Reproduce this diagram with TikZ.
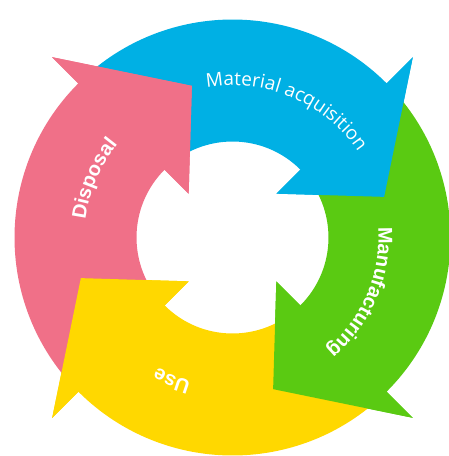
\documentclass[tikz,border=0pt]{standalone}
\usepackage{fontspec}
\usepackage{tikz}
\usetikzlibrary{decorations.text}
\newfontfamily\stagefont{Liberation Sans}
\newfontfamily\matfont{Open Sans}
\definecolor{acqblue}{RGB}{0,176,228}
\definecolor{manugreen}{RGB}{90,202,18}
\definecolor{useyellow}{RGB}{255,216,0}
\definecolor{disppink}{RGB}{240,112,136}
\tikzset{
  stagelabel/.style={decorate, decoration={text along path, text align=center, text color=white, text={#1}}}
}

\begin{document}
\begin{tikzpicture}[x=1pt,y=1pt]
\useasboundingbox[fill=white] (-232.5,-218.5) rectangle (216.5,237.5);
\foreach \col/\b in {acqblue/45, manugreen/-45, useyellow/-135, disppink/135}{
  \fill[\col] (\b+89:218) arc[start angle=\b+89, end angle=\b, radius=218]
    -- (\b:255) -- (\b-30:157) -- (\b:62) -- (\b:96)
    arc[start angle=\b, end angle=\b+89, radius=96] -- cycle;
}
\foreach \col/\b in {acqblue/45, manugreen/-45, useyellow/-135, disppink/135}{
  \fill[\col] (\b:255) -- (\b-30:157) -- (\b:62) -- cycle;
}
\path[stagelabel={|\matfont\fontsize{19}{21}\selectfont|Material acquisition}]
  (117:152) arc[start angle=117, end angle=17, radius=152];
\path[stagelabel={|\stagefont\bfseries\fontsize{20}{22}\selectfont|Manufacturing}]
  (27:146) arc[start angle=27, end angle=-73, radius=146];
\path[stagelabel={|\stagefont\bfseries\fontsize{20}{22}\selectfont|Use}]
  (-63:150) arc[start angle=-63, end angle=-163, radius=150];
\path[stagelabel={|\stagefont\bfseries\fontsize{20}{22}\selectfont|Disposal}]
  (207:148) arc[start angle=207, end angle=107, radius=148];
\end{tikzpicture}
\end{document}
